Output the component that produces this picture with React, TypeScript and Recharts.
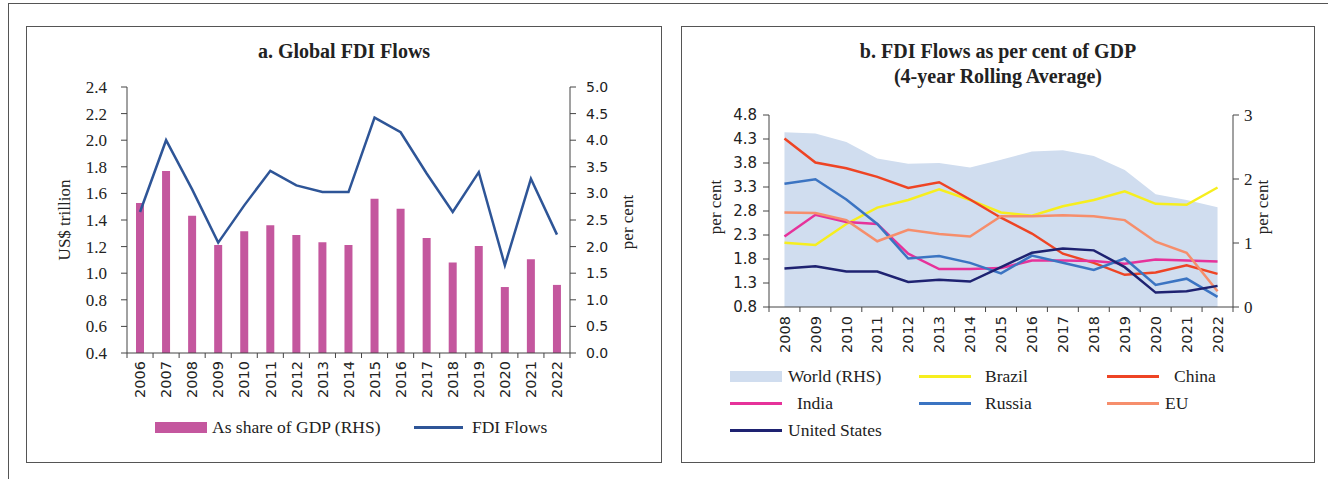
import React from "react";
import {
  ComposedChart,
  Bar,
  Line,
  Area,
  XAxis,
  YAxis,
} from "recharts";

// ---- panel a: global FDI flows ----
const yearsA = [
  "2006", "2007", "2008", "2009", "2010", "2011", "2012", "2013", "2014",
  "2015", "2016", "2017", "2018", "2019", "2020", "2021", "2022",
];
const fdiFlows = [
  1.46, 2.0, 1.63, 1.23, 1.51, 1.77, 1.66, 1.61, 1.61, 2.17, 2.06, 1.75,
  1.46, 1.76, 1.06, 1.71, 1.29,
];
const shareOfGdp = [
  2.82, 3.42, 2.58, 2.03, 2.29, 2.4, 2.22, 2.08, 2.03, 2.9, 2.71, 2.16, 1.7,
  2.01, 1.24, 1.76, 1.28,
];
const leftTicksA = [0.4, 0.6, 0.8, 1.0, 1.2, 1.4, 1.6, 1.8, 2.0, 2.2, 2.4];
const rightTicksA = [0, 0.5, 1, 1.5, 2, 2.5, 3, 3.5, 4, 4.5, 5];

// ---- panel b: FDI as per cent of GDP, 4-year rolling average ----
const yearsB = [
  "2008", "2009", "2010", "2011", "2012", "2013", "2014", "2015", "2016",
  "2017", "2018", "2019", "2020", "2021", "2022",
];
const world = [2.73, 2.71, 2.58, 2.32, 2.24, 2.25, 2.18, 2.3, 2.43, 2.45, 2.36, 2.14, 1.76, 1.67, 1.56];
const brazil = [2.14, 2.09, 2.53, 2.87, 3.03, 3.25, 3.03, 2.77, 2.7, 2.9, 3.03, 3.21, 2.95, 2.93, 3.29];
const china = [4.31, 3.81, 3.69, 3.51, 3.28, 3.4, 3.04, 2.66, 2.33, 1.91, 1.72, 1.47, 1.52, 1.67, 1.49];
const india = [2.27, 2.72, 2.57, 2.53, 1.91, 1.59, 1.59, 1.61, 1.77, 1.77, 1.76, 1.7, 1.79, 1.77, 1.75];
const russia = [3.37, 3.46, 3.04, 2.53, 1.81, 1.86, 1.72, 1.5, 1.87, 1.72, 1.57, 1.81, 1.26, 1.39, 1.01];
const eu = [2.77, 2.76, 2.61, 2.17, 2.41, 2.32, 2.27, 2.69, 2.69, 2.71, 2.69, 2.61, 2.16, 1.93, 1.13];
const us = [1.6, 1.65, 1.54, 1.54, 1.32, 1.37, 1.33, 1.63, 1.93, 2.02, 1.98, 1.63, 1.1, 1.13, 1.24];
const leftTicksB = [0.8, 1.3, 1.8, 2.3, 2.8, 3.3, 3.8, 4.3, 4.8];
const rightTicksB = [0, 1, 2, 3];

const countries = [
  { key: "brazil", name: "Brazil", color: "#F6EE1E", values: brazil },
  { key: "china", name: "China", color: "#EE4424", values: china },
  { key: "india", name: "India", color: "#E6329A", values: india },
  { key: "russia", name: "Russia", color: "#3B74C2", values: russia },
  { key: "eu", name: "EU", color: "#F68E6C", values: eu },
  { key: "us", name: "United States", color: "#1E2271", values: us },
];

const dataA = yearsA.map((year, i) => ({
  year,
  fdi: fdiFlows[i],
  share: shareOfGdp[i],
}));

const dataB = yearsB.map((year, i) => {
  const row: Record<string, number | string> = { year, world: world[i] };
  countries.forEach((c) => {
    row[c.key] = c.values[i];
  });
  return row;
});

const SERIF = "'Liberation Serif', 'DejaVu Serif', serif";
const SANS = "'DejaVu Sans', Verdana, sans-serif";
const INK = "#222";
const AXIS = "#444";

function YearTick(props: any) {
  const { x, y, payload, index, band, count, gap } = props;
  return (
    <g>
      <line x1={x - band / 2} y1={y} x2={x - band / 2} y2={y + 5} stroke={AXIS} />
      {index === count - 1 && (
        <line x1={x + band / 2} y1={y} x2={x + band / 2} y2={y + 5} stroke={AXIS} />
      )}
      <text
        x={x}
        y={y + gap}
        transform={`rotate(-90, ${x}, ${y + gap})`}
        textAnchor="end"
        dy="0.36em"
        fontSize={14.5}
        fill={INK}
        fontFamily={SANS}
      >
        {payload.value}
      </text>
    </g>
  );
}

function VLabel({ text, x, y }: { text: string; x: number; y: number }) {
  return (
    <div
      style={{
        position: "absolute",
        left: x,
        top: y,
        transform: "translate(-50%, -50%) rotate(-90deg)",
        whiteSpace: "nowrap",
        fontSize: 17,
        color: INK,
      }}
    >
      {text}
    </div>
  );
}

function LegendItem(props: {
  x: number;
  y: number;
  textX: number;
  color: string;
  label: string;
  box?: boolean;
  w?: number;
}) {
  const { x, y, textX, color, label, box, w = 52 } = props;
  return (
    <>
      <div
        style={{
          position: "absolute",
          left: x,
          top: box ? y - 5 : y - 1.5,
          width: w,
          height: box ? 11 : 3,
          background: color,
        }}
      />
      <div
        style={{
          position: "absolute",
          left: textX,
          top: y - 11,
          fontSize: 17.5,
          lineHeight: "22px",
          color: INK,
          whiteSpace: "nowrap",
        }}
      >
        {label}
      </div>
    </>
  );
}

function PanelA() {
  const margin = { top: 60, right: 51, bottom: 59, left: 60 };
  const width = 634;
  const band = (width - margin.left - margin.right - 80) / yearsA.length;
  return (
    <div style={{ position: "absolute", left: 26, top: 26, width: 634, height: 435, border: "1px solid #555" }}>
      <div style={{ position: "absolute", left: 0, right: 0, top: 12, textAlign: "center", fontWeight: "bold", fontSize: 20, lineHeight: "25px", color: INK }}>
        a. Global FDI Flows
      </div>
      <ComposedChart width={width} height={435} data={dataA} margin={margin} barSize={8}>
        <XAxis
          dataKey="year"
          interval={0}
          tickLine={false}
          tickSize={0}
          tickMargin={0}
          stroke={AXIS}
          height={50}
          tick={<YearTick band={band} count={yearsA.length} gap={8} />}
        />
        <YAxis
          yAxisId="left"
          domain={[0.4, 2.4]}
          ticks={leftTicksA}
          tickFormatter={(v: number) => v.toFixed(1)}
          width={40}
          tickSize={6}
          tickMargin={14}
          stroke={AXIS}
          tick={{ fontSize: 17, fill: INK, fontFamily: SERIF }}
        />
        <YAxis
          yAxisId="right"
          orientation="right"
          domain={[0, 5]}
          ticks={rightTicksA}
          tickFormatter={(v: number) => v.toFixed(1)}
          width={40}
          tickSize={6}
          tickMargin={10}
          stroke={AXIS}
          tick={{ fontSize: 14, fill: INK, fontFamily: SANS }}
        />
        <Bar yAxisId="right" dataKey="share" fill="#C4579E" isAnimationActive={false} />
        <Line
          yAxisId="left"
          dataKey="fdi"
          type="linear"
          stroke="#2E5597"
          strokeWidth={2.5}
          dot={false}
          isAnimationActive={false}
        />
      </ComposedChart>
      <VLabel text="US$ trillion" x={38} y={193} />
      <VLabel text="per cent" x={601} y={195} />
      <LegendItem x={128} y={400} textX={185} color="#C4579E" label="As share of GDP (RHS)" box w={52} />
      <LegendItem x={387} y={400} textX={445} color="#2E5597" label="FDI Flows" w={49} />
    </div>
  );
}

function PanelB() {
  const margin = { top: 88, right: 41, bottom: 100, left: 47 };
  const width = 632;
  const band = (width - margin.left - margin.right - 80) / yearsB.length;
  return (
    <div style={{ position: "absolute", left: 681, top: 26, width: 632, height: 435, border: "1px solid #555" }}>
      <div style={{ position: "absolute", left: 0, right: 0, top: 12, textAlign: "center", fontWeight: "bold", fontSize: 20, lineHeight: "25px", color: INK }}>
        b. FDI Flows as per cent of GDP
        <br />
        (4-year Rolling Average)
      </div>
      <ComposedChart width={width} height={435} data={dataB} margin={margin}>
        <XAxis
          dataKey="year"
          scale="band"
          interval={0}
          tickLine={false}
          tickSize={0}
          tickMargin={0}
          stroke={AXIS}
          height={55}
          tick={<YearTick band={band} count={yearsB.length} gap={9} />}
        />
        <YAxis
          yAxisId="left"
          domain={[0.8, 4.8]}
          ticks={leftTicksB}
          tickFormatter={(v: number) => v.toFixed(1)}
          width={40}
          tickSize={6}
          tickMargin={6}
          stroke={AXIS}
          tick={{ fontSize: 15, fill: INK, fontFamily: SANS }}
        />
        <YAxis
          yAxisId="right"
          orientation="right"
          domain={[0, 3]}
          ticks={rightTicksB}
          width={40}
          tickSize={6}
          tickMargin={5}
          stroke={AXIS}
          tick={{ fontSize: 17, fill: INK, fontFamily: SERIF }}
        />
        <Area
          yAxisId="right"
          dataKey="world"
          type="linear"
          fill="#D0DDEF"
          fillOpacity={1}
          stroke="none"
          isAnimationActive={false}
        />
        {countries.map((c) => (
          <Line
            key={c.key}
            yAxisId="left"
            dataKey={c.key}
            type="linear"
            stroke={c.color}
            strokeWidth={2.5}
            dot={false}
            isAnimationActive={false}
          />
        ))}
      </ComposedChart>
      <VLabel text="per cent" x={34} y={180} />
      <VLabel text="per cent" x={581} y={180} />
      <LegendItem x={48} y={349} textX={106} color="#D0DDEF" label="World (RHS)" box w={52} />
      <LegendItem x={237} y={349} textX={303} color={countries[0].color} label="Brazil" />
      <LegendItem x={425} y={349} textX={492} color={countries[1].color} label="China" />
      <LegendItem x={48} y={376} textX={115} color={countries[2].color} label="India" />
      <LegendItem x={237} y={376} textX={303} color={countries[3].color} label="Russia" />
      <LegendItem x={425} y={376} textX={483} color={countries[4].color} label="EU" />
      <LegendItem x={48} y={403} textX={106} color={countries[5].color} label="United States" />
    </div>
  );
}

export default function App() {
  return (
    <div
      style={{
        position: "fixed",
        left: 0,
        top: 0,
        width: 1328,
        height: 479,
        background: "#fff",
        fontFamily: SERIF,
        overflow: "hidden",
      }}
    >
      <div style={{ position: "absolute", left: 8, top: 3, width: 1340, height: 490, border: "1px solid #555" }} />
      <PanelA />
      <PanelB />
    </div>
  );
}
